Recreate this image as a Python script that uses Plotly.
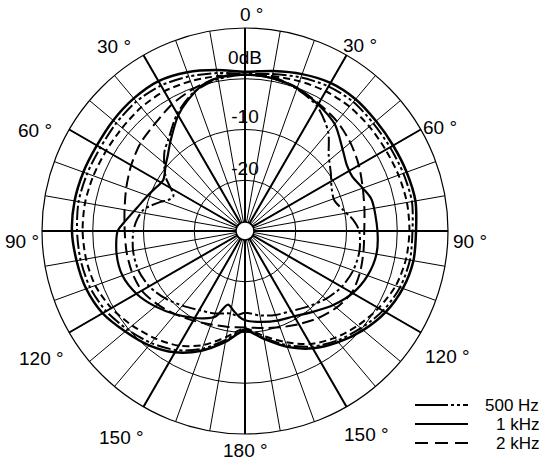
import plotly.graph_objects as go

# directivity readings, dB, angle measured clockwise from the front (0 deg)
angles = list(range(0, 360, 10))

hz500 = [1.0, 1.4, 2.2, 2.9, 3.2, 3.0, 3.0, 3.2, 3.4, 3.0, 3.0, 2.5, 1.4, -0.2, -1.8, -3.7, -6.1, -8.6,
         -10.6, -8.2, -5.3, -2.9, -1.2, 0.2, 1.6, 2.5, 2.9, 3.1, 3.3, 3.1, 2.9, 3.1, 3.3, 3.1, 2.4, 1.6]
khz1 = [1.4, 2.0, 2.9, 3.7, 3.9, 3.7, 3.7, 3.9, 4.1, 3.7, 3.7, 3.1, 2.0, 0.4, -1.4, -3.3, -5.7, -8.4,
        -10.4, -7.8, -4.9, -2.4, -0.6, 0.8, 2.4, 3.3, 3.7, 4.1, 4.1, 3.9, 3.7, 3.9, 4.1, 4.1, 3.3, 2.2]
khz2 = [0.8, 1.0, 1.4, 1.8, 2.0, 2.0, 2.0, 2.2, 2.4, 2.4, 2.2, 1.6, 0.4, -1.0, -2.5, -4.3, -6.7, -9.0,
        -10.8, -8.8, -6.1, -3.9, -2.4, -1.0, 0.4, 1.4, 1.8, 2.0, 2.0, 1.8, 1.6, 1.6, 1.8, 1.8, 1.4, 1.0]

# inner set of curves (not in the visible legend)
inner_dash = [0.8, 0.8, 0.0, -1.0, -1.8, -2.9, -4.1, -5.3, -6.1, -6.5, -6.3, -5.9, -5.7, -6.5, -7.6, -8.8,
              -9.8, -10.6, -11.0, -10.8, -10.4, -9.6, -8.6, -7.5, -6.5, -6.3, -6.3, -6.3, -5.9, -5.1,
              -4.1, -3.1, -2.4, -1.2, -0.2, 0.6]

inner_solid_angles = [0, 10, 20, 30, 40, 50, 57, 63, 70, 76, 90, 100, 110, 120, 130, 140, 150, 160, 170,
                      180, 184, 188, 193, 199, 205, 210, 220, 230, 240, 250, 260, 270, 274, 282, 290,
                      294, 302, 310, 314, 320, 330, 336, 344, 352]
inner_solid = [0.8, 0.6, 0.0, -1.2, -2.5, -4.9, -6.1, -6.3, -5.3, -4.3, -3.9, -3.7, -4.3, -5.5, -7.3,
               -9.2, -10.6, -11.2, -11.8, -12.4, -13.1, -14.1, -15.1, -12.2, -11.0, -10.2, -8.6, -6.9,
               -5.3, -4.3, -4.3, -4.9, -6.1, -8.2, -9.6, -10.2, -11.0, -9.6, -8.8, -7.1, -3.7, -2.0,
               0.0, 0.8]

inner_dashdot_angles = [0, 10, 20, 30, 40, 48, 56, 64, 71, 78, 84, 90, 100, 110, 120, 130, 140, 150,
                        160, 170, 176, 180, 186, 190, 200, 210, 220, 230, 240, 250, 260, 270, 276,
                        282, 289, 292, 296, 304, 310, 315, 320, 330, 340, 350]
inner_dashdot = [0.8, 0.6, -0.2, -1.6, -4.5, -7.8, -9.6, -11.0, -11.4, -10.2, -8.6, -7.5, -7.1, -7.3,
                 -8.0, -9.2, -10.6, -11.8, -12.4, -13.1, -13.7, -13.9, -13.3, -13.5, -12.7, -12.0,
                 -10.8, -9.4, -8.2, -7.6, -7.6, -8.0, -8.6, -9.6, -12.4, -13.7, -14.3, -11.2, -9.2,
                 -7.6, -6.5, -3.3, -0.8, 0.4]

db_labels = ["0dB", "-10", "-20"]
db_label_r = [3.8, -7.7, -18.1]

major_angles = list(range(0, 360, 30))
angle_labels = [f"{a if a <= 180 else 360 - a} °" for a in major_angles]

W, H = 549, 467
FONT = "Liberation Sans, Arial, sans-serif"
DASHDOT = "14px,3px,3px,3px,3px,3px"


def paper(x, y):
    # screen pixel -> paper fraction
    return x / W, 1 - y / H


# screen positions of the angle labels round the rim
label_xy = [(251, 14), (360, 45), (440, 127), (470, 241), (447, 356), (366, 434),
            (245, 450), (121, 437), (41, 358), (22, 241), (35, 130), (114, 47)]


def curve(theta, r, name, dash, width=2):
    return go.Scatterpolar(
        theta=list(theta) + [theta[0]], r=list(r) + [r[0]],
        mode="lines", name=name, showlegend=False,
        line=dict(color="black", width=width, dash=dash, shape="spline", smoothing=0.8),
        hoverinfo="skip",
    )


fig = go.Figure()

# heavy spokes every 30 degrees
spoke_theta, spoke_r = [], []
for a in major_angles:
    spoke_theta += [a, a, None]
    spoke_r += [-30, 10, None]
fig.add_trace(go.Scatterpolar(theta=spoke_theta, r=spoke_r, mode="lines",
                              line=dict(color="black", width=2), showlegend=False, hoverinfo="skip"))

fig.add_trace(curve(angles, khz1, "1 kHz", "solid", width=2.5))
fig.add_trace(curve(angles, hz500, "500 Hz", DASHDOT))
fig.add_trace(curve(angles, khz2, "2 kHz", "7px,4px"))
fig.add_trace(curve(angles, inner_dash, "inner dashed", "12px,5px"))
fig.add_trace(curve(inner_dashdot_angles, inner_dashdot, "inner dash-dot", DASHDOT))
fig.add_trace(curve(inner_solid_angles, inner_solid, "inner solid", "solid", width=2.2))

# hub at the centre
fig.add_trace(go.Scatterpolar(theta=[0], r=[-30], mode="markers", showlegend=False, hoverinfo="skip",
                              marker=dict(size=18, color="white", line=dict(color="black", width=1.5))))

fig.add_trace(go.Scatterpolar(theta=[0] * len(db_labels), r=db_label_r, mode="text", text=db_labels,
                              textfont=dict(family=FONT, size=19, color="black"),
                              showlegend=False, hoverinfo="skip"))

cx, cy, rad = 245, 231, 203
x0, y1 = paper(cx - rad, cy - rad)
x1, y0 = paper(cx + rad, cy + rad)

fig.update_layout(
    width=W, height=H,
    margin=dict(l=0, r=0, t=0, b=0),
    paper_bgcolor="white",
    showlegend=False,
    font=dict(family=FONT, size=19, color="black"),
    polar=dict(
        domain=dict(x=[x0, x1], y=[y0, y1]),
        bgcolor="white",
        angularaxis=dict(
            direction="clockwise", rotation=90,
            tickmode="array", tickvals=angles, showticklabels=False, ticks="",
            showgrid=True, gridcolor="black", gridwidth=1,
            showline=True, linecolor="black", linewidth=1.2,
        ),
        radialaxis=dict(
            range=[-30, 10], tickvals=[-20, -10, 0], showticklabels=False, ticks="",
            showgrid=True, gridcolor="black", gridwidth=1, showline=False,
        ),
    ),
)

for text, (sx, sy) in zip(angle_labels, label_xy):
    px_, py_ = paper(sx, sy)
    fig.add_annotation(text=text, xref="paper", yref="paper", x=px_, y=py_, xanchor="center",
                       yanchor="middle", showarrow=False, font=dict(family=FONT, size=19, color="black"))

# legend drawn by hand so that the keys are long and the labels right aligned
legend_rows = [("500 Hz", DASHDOT.replace("14px", "33px"), 405),
               ("1 kHz", "solid", 424),
               ("2 kHz", "13px,7px", 443)]
for label, dash, sy in legend_rows:
    lx0, ly = paper(415, sy)
    lx1, _ = paper(468, sy)
    tx, _ = paper(540, sy)
    fig.add_shape(type="line", xref="paper", yref="paper", x0=lx0, x1=lx1, y0=ly, y1=ly,
                  line=dict(color="black", width=2, dash=dash))
    fig.add_annotation(text=label, xref="paper", yref="paper", x=tx, y=ly, xanchor="right",
                       yanchor="middle", showarrow=False, borderpad=0,
                       font=dict(family=FONT, size=17, color="black"))

# drop the default page margin so the figure starts at the window corner
fig.write_html("out.html", config={"displayModeBar": False},
               post_script="document.body.style.margin = '0';")
